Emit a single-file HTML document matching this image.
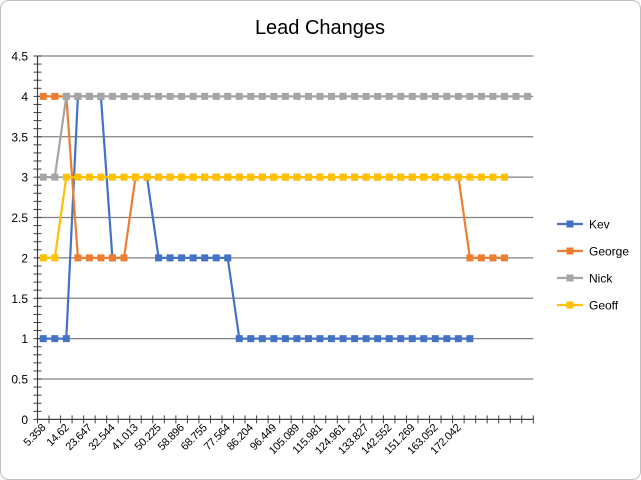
<!DOCTYPE html>
<html><head><meta charset="utf-8"><style>
body{margin:0;background:#fff;}
svg{display:block;font-family:"Liberation Sans",Calibri,sans-serif;}
</style></head><body>
<svg width="641" height="480" id="c">
<rect x="0.5" y="0.5" width="640" height="479" rx="8" fill="#fff" stroke="#bfbfbf"/>
<text x="320" y="34" font-size="20" text-anchor="middle" fill="#000">Lead Changes</text>
<g id="grid"></g>
<g id="axes"></g>
<g id="series"></g>
<g id="legend"></g>
</svg>
<script>
const categories=["5.358","","14.62","","23.647","","32.544","","41.013","","50.225","","58.896","","68.755","","77.564","","86.204","","96.449","","105.089","","115.981","","124.961","","133.827","","142.552","","151.269","","163.052","","172.042","","","","","",""];
const yTicks=[0,0.5,1,1.5,2,2.5,3,3.5,4,4.5];
const seriesNames=["Kev","George","Nick","Geoff"];
const colors=["#4472c4","#ed7d31","#a5a5a5","#ffc000"];
const kev=[1,1,1,4,4,4,2,null,null,3,2,2,2,2,2,2,2,1,1,1,1,1,1,1,1,1,1,1,1,1,1,1,1,1,1,1,1,1];
const george=[4,4,4,2,2,2,2,2,3,3,3,3,3,3,3,3,3,3,3,3,3,3,3,3,3,3,3,3,3,3,3,3,3,3,3,3,3,2,2,2,2];
const nick=[3,3,4,4,4,4,4,4,4,4,4,4,4,4,4,4,4,4,4,4,4,4,4,4,4,4,4,4,4,4,4,4,4,4,4,4,4,4,4,4,4,4,4];
const geoff=[2,2,3,3,3,3,3,3,3,3,3,3,3,3,3,3,3,3,3,3,3,3,3,3,3,3,3,3,3,3,3,3,3,3,3,3,3,3,3,3,3];
const allSeries=[kev,george,nick,geoff];
const NS="http://www.w3.org/2000/svg";
const X0=37.5,X1=533.3,Y0=419.4,YMAX=4.5,YTOP=56;
const cw=(X1-X0)/categories.length;
const xs=i=>X0+cw*(i+0.5);
const ys=v=>Y0-(v/YMAX)*(Y0-YTOP);
function mk(tag,attrs,parent){const e=document.createElementNS(NS,tag);for(const k in attrs)e.setAttribute(k,attrs[k]);parent.appendChild(e);return e;}
const grid=document.getElementById('grid'),axes=document.getElementById('axes'),ser=document.getElementById('series'),leg=document.getElementById('legend');
yTicks.forEach(t=>{
 if(t>0){const l=mk('line',{x1:X0,x2:X1,y1:ys(t),y2:ys(t),stroke:'#808080','stroke-width':1.3},grid);
 
 }
 const tx=mk('text',{x:28,y:ys(t)+4.5,'font-size':12,'text-anchor':'end',fill:'#000'},axes);
 tx.textContent=t;
 
 
});
for(let v=0;v<=YMAX+1e-9;v+=0.1){mk('line',{x1:X0-4,x2:X0+4,y1:ys(v),y2:ys(v),stroke:'#404040','stroke-width':1},axes);}
mk('line',{x1:X0,x2:X0,y1:YTOP,y2:Y0,stroke:'#404040','stroke-width':1.2},axes);
mk('line',{x1:X0,x2:X1,y1:Y0,y2:Y0,stroke:'#404040','stroke-width':1.2},axes);
for(let i=0;i<=categories.length;i++){mk('line',{x1:X0+cw*i,x2:X0+cw*i,y1:Y0-4,y2:Y0+4,stroke:'#404040','stroke-width':1},axes);}
categories.forEach((c,i)=>{if(!c)return;
 const x=xs(i)+3,y=Y0+9;
 const tx=mk('text',{x:x,y:y,'font-size':11,'text-anchor':'end',fill:'#000','letter-spacing':'-0.3',transform:`rotate(-45 ${x} ${y})`},axes);
 tx.textContent=c;
 
 
});
allSeries.forEach((arr,s)=>{
 const g=mk('g',{},ser);
 
 
 let d='',pen=false;
 arr.forEach((v,i)=>{if(v==null){pen=false;return;}d+=(pen?'L':'M')+xs(i).toFixed(1)+' '+ys(v).toFixed(1);pen=true;});
 mk('path',{d:d,fill:'none',stroke:colors[s],'stroke-width':2.2,'stroke-linejoin':'round'},g);
 arr.forEach((v,i)=>{if(v==null)return;
  const r=mk('rect',{x:xs(i)-3.5,y:ys(v)-3.5,width:7,height:7,fill:colors[s]},g);
  
  
 });
});
seriesNames.forEach((n,s)=>{
 const y=224+s*27;
 const g=mk('g',{},leg);
 
 
 mk('line',{x1:557,x2:583,y1:y,y2:y,stroke:colors[s],'stroke-width':2.2},g);
 mk('rect',{x:566.5,y:y-3.5,width:7,height:7,fill:colors[s]},g);
 const t=mk('text',{x:589,y:y+4.5,'font-size':12,fill:'#000'},g);
 t.textContent=n;
});
</script>
</body></html>
